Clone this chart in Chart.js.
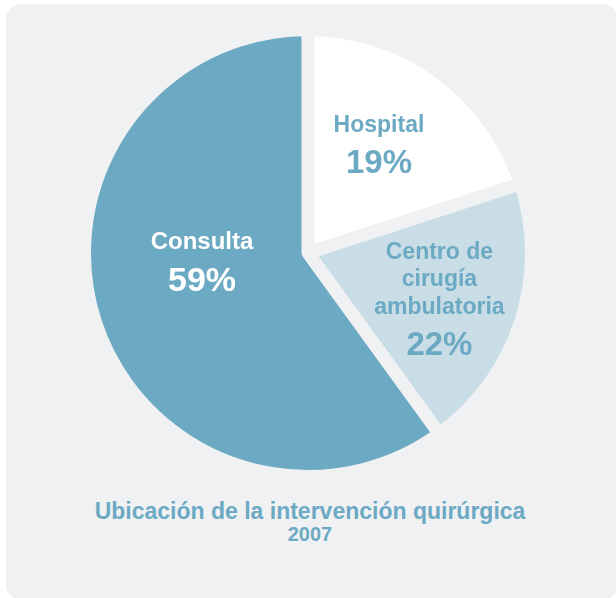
<!DOCTYPE html>
<html>
<head>
<meta charset="utf-8">
<script src="https://cdn.jsdelivr.net/npm/chart.js@4"></script>
<style>
  html, body { margin: 0; padding: 0; background: #ffffff; }
  body { width: 616px; height: 598px; position: relative; overflow: hidden; font-family: "Liberation Sans", Arial, sans-serif; }
  .card { position: absolute; left: 6px; top: 4px; width: 612px; height: 596px; background: #f0f1f3; border-radius: 15px; }
  .chart-box { position: absolute; left: 0; top: 23px; width: 616px; height: 460px; }
  .caption { position: absolute; left: 0; width: 620px; text-align: center; color: #6ca9c3; font-weight: bold; white-space: nowrap; }
  .caption.l1 { top: 500px; font-size: 23px; line-height: 23px; }
  .caption.l2 { top: 524px; font-size: 20px; line-height: 20px; }
</style>
</head>
<body>
<div class="card"></div>
<div class="chart-box"><canvas id="pieUbicacion" width="616" height="460"></canvas></div>
<div class="caption l1">Ubicación de la intervención quirúrgica</div>
<div class="caption l2">2007</div>

<script>
// dane z wykresu
const categories = ['Hospital', 'Centro de cirugía ambulatoria', 'Consulta'];
const sliceShares = [20, 20, 60];          // kąt wycinków
const labelPercents = [19, 22, 59];        // wartości wypisane na wycinkach
const labelLines = [['Hospital'], ['Centro de', 'cirugía', 'ambulatoria'], ['Consulta']];

const sliceColors = ['#ffffff', '#c9dde6', '#6ca9c3'];
const labelColors = ['#6ca9c3', '#6ca9c3', '#ffffff'];
const cardColor = '#f0f1f3';

// położenie etykiet: kąt od godziny 12 (stopnie), ułamek promienia, rozmiary czcionek
const labelPlacement = [[33.2, 0.58], [109.3, 0.623], [265.1, 0.476]];
const labelFonts = [[23, 33, 38], [23, 33, 38], [24, 34, 40]];

const sliceLabels = {
    id: 'sliceLabels',
    afterDatasetsDraw(chart) {
        const ctx = chart.ctx;
        const arcs = chart.getDatasetMeta(0).data;
        ctx.save();
        ctx.textAlign = 'center';
        ctx.textBaseline = 'middle';
        arcs.forEach((arc, i) => {
            const [deg, frac] = labelPlacement[i];
            const [nameSize, pctSize, pctGap] = labelFonts[i];
            const a = (deg - 90) * Math.PI / 180;
            const cx = arc.x + Math.cos(a) * arc.outerRadius * frac;
            const cy = arc.y + Math.sin(a) * arc.outerRadius * frac;
            const names = labelLines[i];
            const lineGap = 27.5;
            const blockH = (names.length - 1) * lineGap + pctGap;
            let y = cy - blockH / 2;
            ctx.fillStyle = labelColors[i];
            ctx.font = `bold ${nameSize}px "Liberation Sans", Arial, sans-serif`;
            names.forEach((t, k) => {
                ctx.fillText(t, cx, y);
                if (k < names.length - 1) y += lineGap;
            });
            y += pctGap;
            ctx.font = `bold ${pctSize}px "Liberation Sans", Arial, sans-serif`;
            ctx.fillText(labelPercents[i] + '%', cx, y);
        });
        ctx.restore();
    }
};

const ctx = document.getElementById('pieUbicacion').getContext('2d');
new Chart(ctx, {
    type: 'pie',
    data: {
        labels: categories,
        datasets: [{
            data: sliceShares,
            backgroundColor: sliceColors,
            borderColor: cardColor,
            borderWidth: 13
        }]
    },
    options: {
        responsive: false,
        animation: false,
        plugins: {
            legend: { display: false },
            title: { display: false },
            tooltip: { enabled: false }
        }
    },
    plugins: [sliceLabels]
});
</script>
</body>
</html>
